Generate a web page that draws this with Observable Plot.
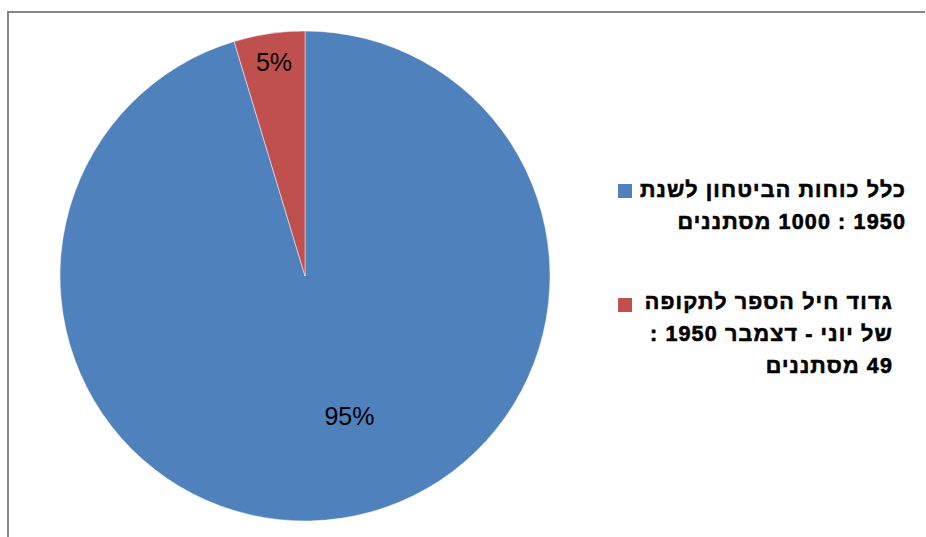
<!DOCTYPE html>
<html>
<head>
<meta charset="utf-8">
<script src="https://cdn.jsdelivr.net/npm/d3@7"></script>
<script src="https://cdn.jsdelivr.net/npm/@observablehq/plot@0.6"></script>
<style>
  html, body { margin: 0; padding: 0; background: #fff; }
  #wrap { position: relative; width: 926px; height: 537px; overflow: hidden; }
  #frame { position: absolute; left: 7px; top: 11px; width: 918px; height: 600px;
           border-top: 2px solid #878787; border-left: 2px solid #878787; box-sizing: border-box; }
  #chart { position: absolute; left: 0; top: 0; }
  .leg { position: absolute; direction: rtl; text-align: right; font-family: "Liberation Sans", Arial, sans-serif;
         font-weight: bold; font-size: 21.5px; line-height: 32px; color: #000; white-space: nowrap;
         letter-spacing: 1.15px; -webkit-text-stroke: 0.6px #000; }
  .sw { position: absolute; width: 14px; height: 14px; }
</style>
</head>
<body>
<div id="wrap">
  <div id="frame"></div>
  <div id="chart"></div>
</div>
<script>
// ---- data ----
const categories = ["כלל כוחות הביטחון לשנת 1950 : 1000 מסתננים", "גדוד חיל הספר לתקופה של יוני - דצמבר 1950 : 49 מסתננים"];
const values = [1000, 49];
const colors = ["#4F81BD", "#C0504D"];
const legendLines = [
  ["כלל כוחות הביטחון לשנת", "1950 : 1000 מסתננים"],
  ["גדוד חיל הספר לתקופה", "של יוני - דצמבר 1950 :", "49 מסתננים"]
];

const total = d3.sum(values);
const pie = d3.pie().sort(null).value(d => d.value);
const arcs = pie(categories.map((c, i) => ({category: c, value: values[i], color: colors[i]})));
const labelRadius = [0.6, 0.88];
const labelAngleShift = [9 * Math.PI / 180, 0];
const labels = arcs.map((a, i) => {
  const mid = (a.startAngle + a.endAngle) / 2 - labelAngleShift[i];
  return {
    x: Math.sin(mid) * labelRadius[i],
    y: Math.cos(mid) * labelRadius[i],
    text: Math.round(a.data.value / total * 100) + "%"
  };
});

function pieMark(index, scales) {
  const cx = scales.x(0), cy = scales.y(0);
  const r = scales.x(1) - scales.x(0);
  const g = d3.create("svg:g").attr("transform", `translate(${cx},${cy})`);
  const arc = d3.arc().innerRadius(0).outerRadius(r);
  g.selectAll("path").data(arcs).join("path")
    .attr("d", arc)
    .attr("fill", d => d.data.color)
    .attr("stroke", "#ffffff")
    .attr("stroke-opacity", 0.6)
    .attr("stroke-width", 0.8);
  return g.node();
}

const plot = Plot.plot({
  width: 926,
  height: 537,
  margin: 0,
  x: {domain: [-1, 1], range: [60, 550], axis: null},
  y: {domain: [-1, 1], range: [521, 31], axis: null},
  style: {background: "transparent", fontFamily: "'Liberation Sans', Arial, sans-serif"},
  marks: [
    pieMark,
    Plot.text(labels, {x: "x", y: "y", text: "text", fontSize: 25, fill: "#000"})
  ]
});
document.getElementById("chart").appendChild(plot);

// ---- legend ----
const wrap = document.getElementById("wrap");
const legPos = [{right: 20, top: 174, swTop: 184}, {right: 33, top: 286, swTop: 298}];
legendLines.forEach((lines, i) => {
  const d = document.createElement("div");
  d.className = "leg";
  d.style.right = legPos[i].right + "px";
  d.style.top = legPos[i].top + "px";
  lines.forEach((l, j) => {
    const s = document.createElement("div");
    s.textContent = l;
    d.appendChild(s);
  });
  wrap.appendChild(d);
  const sw = document.createElement("div");
  sw.className = "sw";
  sw.style.left = "618px";
  sw.style.top = legPos[i].swTop + "px";
  sw.style.background = colors[i];
  wrap.appendChild(sw);
});
</script>
</body>
</html>
